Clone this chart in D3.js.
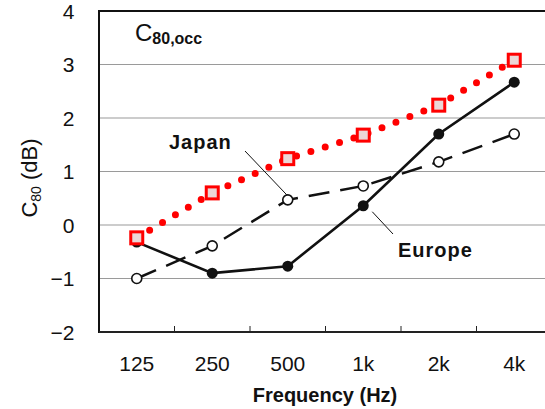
<!DOCTYPE html>
<html>
<head>
<meta charset="utf-8">
<script src="https://cdn.jsdelivr.net/npm/d3@7"></script>
<style>
  html, body { margin: 0; padding: 0; background: #fff; }
  svg { display: block; font-family: "Liberation Sans", Arial, sans-serif; }
</style>
</head>
<body>
<svg id="chart" width="545" height="409"></svg>
<script>
// Octave-band centre frequencies
const bands = ["125", "250", "500", "1k", "2k", "4k"];
// C80 (dB) per band
const japan  = [-1.0, -0.39, 0.47, 0.73, 1.18, 1.70];
const europe = [-0.32, -0.90, -0.77, 0.36, 1.70, 2.67];
const occ    = [-0.24, 0.60, 1.24, 1.68, 2.24, 3.08];
// Value-axis ticks
const yTicks = [4, 3, 2, 1, 0, -1, -2];
const gridValues = [3, 2, 1, 0, -1];

const svg = d3.select("#chart");
const plotLeft = 99, plotTop = 11, plotBottom = 332, bandW = 75.5;

const x = d3.scaleBand().domain(bands).range([plotLeft, plotLeft + bandW * bands.length]).padding(0);
const cx = d => x(d) + x.bandwidth() / 2;
const y = d3.scaleLinear().domain([-2, 4]).range([plotBottom, plotTop]);

// Horizontal grid
svg.append("g").selectAll("line").data(gridValues).join("line")
  .attr("x1", plotLeft).attr("x2", 545)
  .attr("y1", d => y(d)).attr("y2", d => y(d))
  .attr("stroke", "#9a9a9a").attr("stroke-width", 1.2);

// Frame: top edge, left axis, bottom axis
svg.append("line").attr("x1", plotLeft).attr("x2", 545).attr("y1", y(4)).attr("y2", y(4))
  .attr("stroke", "#111").attr("stroke-width", 2);
svg.append("line").attr("x1", plotLeft).attr("x2", plotLeft).attr("y1", y(4) - 1).attr("y2", y(-2) + 1)
  .attr("stroke", "#111").attr("stroke-width", 2);
svg.append("line").attr("x1", plotLeft).attr("x2", 545).attr("y1", y(-2)).attr("y2", y(-2))
  .attr("stroke", "#222").attr("stroke-width", 2);

// Band boundary ticks on the bottom axis
svg.append("g").selectAll("line").data(bands.slice(1)).join("line")
  .attr("x1", d => x(d)).attr("x2", d => x(d))
  .attr("y1", y(-2)).attr("y2", y(-2) - 6)
  .attr("stroke", "#222").attr("stroke-width", 1);

// Y tick labels
svg.append("g").selectAll("text").data(yTicks).join("text")
  .attr("x", 74.5).attr("y", d => y(d)).attr("dy", "0.36em")
  .attr("text-anchor", "end").attr("font-size", 21).attr("fill", "#111")
  .text(d => d < 0 ? "\u2212" + Math.abs(d) : d);

// X tick labels
svg.append("g").selectAll("text").data(bands).join("text")
  .attr("x", d => cx(d)).attr("y", 371)
  .attr("text-anchor", "middle").attr("font-size", 21).attr("fill", "#111")
  .text(d => d);

// Axis titles
svg.append("text").attr("x", 325).attr("y", 402).attr("text-anchor", "middle")
  .attr("font-size", 20).attr("font-weight", "bold").attr("fill", "#111")
  .text("Frequency (Hz)");

const yl = svg.append("text").attr("transform", "translate(37,178) rotate(-90)")
  .attr("text-anchor", "middle").attr("font-size", 22).attr("fill", "#111");
yl.append("tspan").text("C");
yl.append("tspan").attr("font-size", 14).attr("dy", 4).text("80");
yl.append("tspan").attr("dy", -4).text(" (dB)");

// Panel title
const tt = svg.append("text").attr("x", 135).attr("y", 41).attr("fill", "#111");
tt.append("tspan").attr("font-size", 24).text("C");
tt.append("tspan").attr("font-size", 16).attr("font-weight", "bold").attr("dy", 2.5).text("80,occ");

const line = d3.line().x((d, i) => cx(bands[i])).y(d => y(d));

// Japan: dashed line, open circles
svg.append("path").datum(japan).attr("d", line)
  .attr("fill", "none").attr("stroke", "#111").attr("stroke-width", 2.5)
  .attr("stroke-dasharray", "21,11");
svg.append("g").selectAll("circle").data(japan).join("circle")
  .attr("cx", (d, i) => cx(bands[i])).attr("cy", d => y(d)).attr("r", 5)
  .attr("fill", "#fff").attr("stroke", "#111").attr("stroke-width", 1.6);

// Europe: solid line, filled circles
svg.append("path").datum(europe).attr("d", line)
  .attr("fill", "none").attr("stroke", "#111").attr("stroke-width", 2.6);
svg.append("g").selectAll("circle").data(europe).join("circle")
  .attr("cx", (d, i) => cx(bands[i])).attr("cy", d => y(d)).attr("r", 5.5)
  .attr("fill", "#111");

// Occupied C80: red dotted line, square markers
svg.append("path").datum(occ).attr("d", line)
  .attr("fill", "none").attr("stroke", "#ff0000").attr("stroke-width", 7)
  .attr("stroke-linecap", "round").attr("stroke-dasharray", "0,15");
const sq = 12;
svg.append("g").selectAll("rect").data(occ).join("rect")
  .attr("x", (d, i) => cx(bands[i]) - sq / 2).attr("y", d => y(d) - sq / 2)
  .attr("width", sq).attr("height", sq)
  .attr("fill", "#ecd6d6").attr("stroke", "#ff0000").attr("stroke-width", 3);

// Series labels with leader lines
svg.append("text").attr("x", 169).attr("y", 149).attr("font-size", 20)
  .attr("font-weight", "bold").attr("letter-spacing", 1).attr("fill", "#111").text("Japan");
svg.append("line").attr("x1", 245).attr("y1", 151).attr("x2", cx("500") - 1).attr("y2", y(japan[2]) - 5)
  .attr("stroke", "#111").attr("stroke-width", 1);

svg.append("text").attr("x", 398).attr("y", 257).attr("font-size", 20)
  .attr("font-weight", "bold").attr("letter-spacing", 1).attr("fill", "#111").text("Europe");
svg.append("line").attr("x1", cx("1k") + 9).attr("y1", y(europe[3]) + 6).attr("x2", 393).attr("y2", 234)
  .attr("stroke", "#111").attr("stroke-width", 1);
</script>
</body>
</html>
